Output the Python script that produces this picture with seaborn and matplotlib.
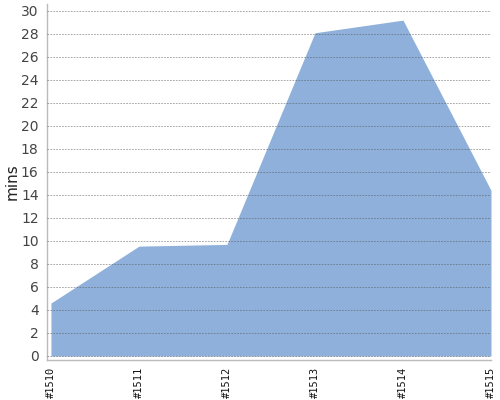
import pandas as pd
import matplotlib
matplotlib.use("Agg")
import matplotlib.pyplot as plt
import seaborn as sns

# dati
builds = ['#1510', '#1511', '#1512', '#1513', '#1514', '#1515']
mins = [4.6, 9.55, 9.7, 28.1, 29.2, 14.4]

df = pd.DataFrame({'build': range(len(builds)), 'mins': mins})

sns.set_style('white')
plt.rcParams['font.family'] = ['DejaVu Sans']

fig = plt.figure(figsize=(5, 4), dpi=100)
ax = fig.add_axes([0.094, 0.10, 0.888, 0.89])

fill_color = '#8eb0da'
sns.lineplot(data=df, x='build', y='mins', ax=ax, color=fill_color, linewidth=0)
ax.fill_between(df['build'], 0, df['mins'], color=fill_color, linewidth=0, zorder=1)

# griglia tratteggiata
ax.set_yticks(range(0, 31, 2))
ax.yaxis.grid(True, linestyle=(0, (2, 1.5)), color='#555555', linewidth=0.6, alpha=0.6, zorder=2)
ax.set_axisbelow(False)

ax.set_xlim(-0.045, 5)
ax.set_ylim(-0.35, 30.6)
ax.set_xticks(range(len(builds)))
ax.set_xticklabels(builds, rotation=90, fontsize=7.5, family='DejaVu Sans Mono', color='#111111')
ax.tick_params(axis='y', labelsize=10, labelcolor='#444444', length=4, color='#bbbbbb', pad=2)
ax.tick_params(axis='x', length=3, color='#bbbbbb', pad=1.5)

for s in ['top', 'right']:
    ax.spines[s].set_visible(False)
for s in ['left', 'bottom']:
    ax.spines[s].set_color('#bbbbbb')
    ax.spines[s].set_linewidth(1)

ax.set_xlabel('')
ax.set_ylabel('mins', fontsize=11, color='#222222')
ax.yaxis.set_label_coords(-0.061, 0.5)

fig.savefig('out.png', dpi=100)
